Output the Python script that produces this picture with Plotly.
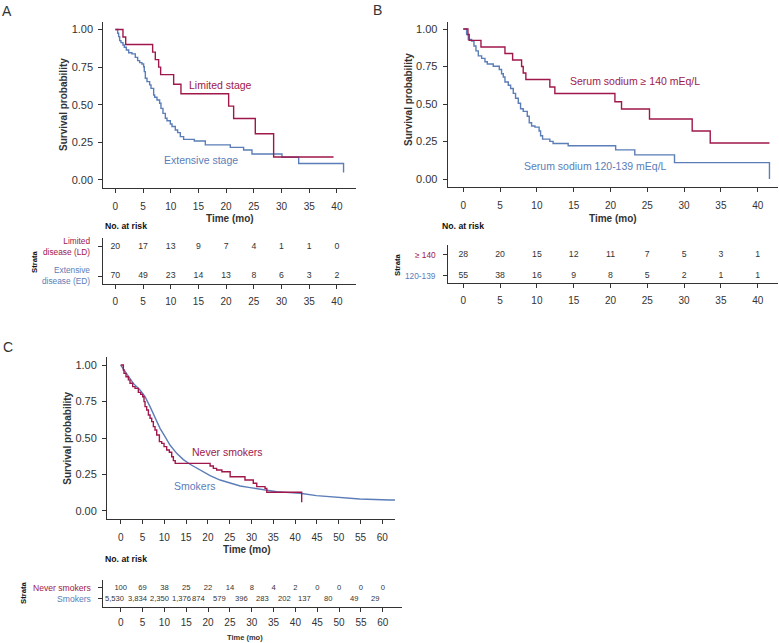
import plotly.graph_objects as go

W, H = 779, 643
RED = "#A0174B"
BLUE = "#5B7DB8"
TXT = "#333333"
FONT = "Liberation Sans, Arial, Helvetica, sans-serif"

# ---------------- data ----------------
# Panel A: stage
a_ld_time = [0, 1.38, 1.87, 6.74, 7.22, 7.82, 8.18, 10.53, 11.85, 20.46, 21.36, 25.27, 28.58, 39.4]
a_ld_surv = [1, 0.95, 0.90, 0.85, 0.80, 0.75, 0.70, 0.636, 0.573, 0.491, 0.409, 0.307, 0.153, 0.153]
a_ed_time = [0, 0.42, 0.6, 0.78, 1.02, 1.38, 1.62, 1.99, 2.41, 3.0, 3.61, 4.03, 4.39, 4.81, 5.11,
             5.23, 5.42, 5.72, 6.2, 6.44, 6.92, 7.1, 7.52, 8.0, 8.24, 8.6, 9.03, 9.33, 9.93, 10.23,
             10.83, 11.25, 11.73, 12.33, 14.26, 16.25, 20.76, 23.16, 24.67, 30.08, 33.1, 41.2]
a_ed_surv = [1, 0.975, 0.953, 0.926, 0.913, 0.897, 0.882, 0.864, 0.846, 0.838, 0.815, 0.793, 0.780,
             0.771, 0.753, 0.720, 0.676, 0.654, 0.632, 0.609, 0.565, 0.550, 0.532, 0.510, 0.476,
             0.443, 0.410, 0.394, 0.372, 0.355, 0.332, 0.315, 0.288, 0.270, 0.259, 0.233, 0.217,
             0.199, 0.173, 0.151, 0.11, 0.05]
a_risk_times = [0, 5, 10, 15, 20, 25, 30, 35, 40]
a_risk_ld = [20, 17, 13, 9, 7, 4, 1, 1, 0]
a_risk_ed = [70, 49, 23, 14, 13, 8, 6, 3, 2]

# Panel B: serum sodium
b_hi_time = [0, 0.63, 0.8, 2.4, 5.66, 6.7, 7.92, 8.14, 8.5, 11.76, 12.44, 20.6, 21.5, 25.3, 31.1, 33.55, 41.6]
b_hi_surv = [1, 0.963, 0.924, 0.880, 0.837, 0.793, 0.75, 0.707, 0.663, 0.613, 0.570, 0.515, 0.467,
             0.40, 0.32, 0.24, 0.24]
b_lo_time = [0, 0.45, 0.68, 1.13, 1.45, 1.72, 2.04, 2.49, 2.94, 3.26, 4.07, 4.89, 5.2, 5.43, 5.66,
             6.11, 6.43, 6.79, 7.10, 7.47, 7.78, 8.14, 8.69, 8.96, 9.28, 9.73, 10.3, 10.5, 10.77,
             11.76, 12.2, 14.25, 20.7, 23.3, 28.7, 41.6]
b_lo_surv = [1, 0.963, 0.930, 0.919, 0.887, 0.854, 0.821, 0.804, 0.782, 0.767, 0.752, 0.730, 0.702,
             0.680, 0.647, 0.625, 0.603, 0.571, 0.538, 0.505, 0.468, 0.451, 0.418, 0.375, 0.353,
             0.346, 0.320, 0.288, 0.266, 0.251, 0.237, 0.222, 0.194, 0.161, 0.109, 0.0]
b_risk_times = [0, 5, 10, 15, 20, 25, 30, 35, 40]
b_risk_hi = [28, 20, 15, 12, 11, 7, 5, 3, 1]
b_risk_lo = [55, 38, 16, 9, 8, 5, 2, 1, 1]

# Panel C: smoking
c_never_time = [0, 0.61, 0.76, 1.22, 1.76, 2.14, 2.75, 3.29, 4.05, 4.59, 5.05, 5.35, 5.58, 5.96,
                6.35, 6.73, 7.11, 7.49, 7.87, 8.26, 8.87, 9.4, 9.94, 10.55, 11.16, 11.7, 12.08,
                12.5, 20.5, 21.25, 22.0, 23.2, 25.1, 28.5, 30.4, 31.2, 33.1, 33.5, 41.5]
c_never_surv = [1, 0.966, 0.943, 0.920, 0.898, 0.875, 0.852, 0.840, 0.813, 0.799, 0.783, 0.749,
                0.715, 0.692, 0.658, 0.635, 0.612, 0.578, 0.555, 0.521, 0.475, 0.463, 0.441,
                0.418, 0.402, 0.372, 0.345, 0.326, 0.308, 0.292, 0.281, 0.269, 0.235, 0.212,
                0.190, 0.167, 0.155, 0.128, 0.059]
c_smk_time = [0, 1.38, 2.9, 4.43, 5.58, 6.73, 7.87, 9.02, 10.17, 11.3, 12.84, 14.37, 15.9, 17.43,
              18.96, 20.5, 22.8, 25.1, 27.4, 29.7, 32.7, 35.8, 38.8, 41.1, 44.9, 48.7, 54.8, 61.7, 62.9]
c_smk_surv = [1.0, 0.943, 0.874, 0.829, 0.783, 0.715, 0.635, 0.566, 0.509, 0.452, 0.395, 0.352,
              0.320, 0.295, 0.269, 0.242, 0.212, 0.189, 0.171, 0.160, 0.144, 0.132, 0.126, 0.121,
              0.105, 0.098, 0.082, 0.075, 0.075]
c_risk_times = [0, 5, 10, 15, 20, 25, 30, 35, 40, 45, 50, 55, 60]
c_risk_never = [100, 69, 38, 25, 22, 14, 8, 4, 2, 0, 0, 0, 0]
c_risk_smk = [5530, 3834, 2350, 1376, 874, 579, 396, 283, 202, 137, 80, 49, 29]
c_smk_label_shift = [-6, -5, -5, -5, -10, -10, -10, -11, -11, -13, -11, -7, -8]  # px, as printed

y_ticks = [0, 0.25, 0.5, 0.75, 1.0]
y_ticktext = ["0.00", "0.25", "0.50", "0.75", "1.00"]


# ---------------- helpers ----------------
def fx(p):
    return p / W


def fy(p):
    return 1 - p / H


annotations = []


def ann(text, x, y, size, color=TXT, bold=False, xanchor="center", yanchor="middle",
        angle=0, align="center"):
    annotations.append(dict(
        text=f"<b>{text}</b>" if bold else text, x=fx(x), y=fy(y), xref="paper", yref="paper",
        showarrow=False, xanchor=xanchor, yanchor=yanchor, textangle=angle, align=align,
        font=dict(family=FONT, size=size, color=color)))


fig = go.Figure()


def curve(t, s, color, xa, ya, shape="hv"):
    fig.add_trace(go.Scatter(x=t, y=s, mode="lines", line=dict(color=color, width=1.4, shape=shape),
                             xaxis=xa, yaxis=ya, showlegend=False, hoverinfo="skip"))


def risk_row(t, vals, yv, xa, ya, size):
    fig.add_trace(go.Scatter(x=t, y=[yv] * len(t), mode="text", text=[str(v) for v in vals],
                             textfont=dict(family=FONT, size=size, color=TXT),
                             xaxis=xa, yaxis=ya, showlegend=False, hoverinfo="skip"))


# Panel A
curve(a_ed_time, a_ed_surv, BLUE, "x", "y")
curve(a_ld_time, a_ld_surv, RED, "x", "y")
risk_row(a_risk_times, a_risk_ld, 2, "x2", "y2", 8.7)
risk_row(a_risk_times, a_risk_ed, 1, "x2", "y2", 8.7)
# Panel B
curve(b_lo_time, b_lo_surv, BLUE, "x3", "y3")
curve(b_hi_time, b_hi_surv, RED, "x3", "y3")
risk_row(b_risk_times, b_risk_hi, 2, "x4", "y4", 8.7)
risk_row(b_risk_times, b_risk_lo, 1, "x4", "y4", 8.7)
# Panel C
curve(c_smk_time, c_smk_surv, BLUE, "x5", "y5", shape="linear")
curve(c_never_time, c_never_surv, RED, "x5", "y5")
risk_row(c_risk_times, c_risk_never, 2, "x6", "y6", 7.6)
for t, v, sh in zip(c_risk_times, c_risk_smk, c_smk_label_shift):
    annotations.append(dict(text=f"{v:,}", x=t, y=1, xref="x6", yref="y6", xshift=sh,
                            showarrow=False, font=dict(family=FONT, size=7.6, color=TXT)))

axis_common = dict(showline=True, linecolor="#333333", linewidth=1, ticks="outside", ticklen=4,
                   tickcolor="#333333", tickwidth=1, showgrid=False, zeroline=False,
                   tickfont=dict(family=FONT, size=10, color=TXT))


def xax(dom, rng, tv, labels=True, standoff=5):
    d = dict(axis_common)
    d.update(domain=[fx(dom[0]), fx(dom[1])], range=rng, tickvals=tv, showticklabels=labels,
             ticklabelstandoff=standoff)
    return d


def yax(dom, rng, tv, tt=None, size=11, labels=True):
    d = dict(axis_common)
    d.update(domain=[fy(dom[1]), fy(dom[0])], range=rng, tickvals=tv, showticklabels=labels,
             tickfont=dict(family=FONT, size=size, color=TXT), ticklabelstandoff=3)
    if tt is not None:
        d["ticktext"] = tt
    return d


layout = dict(
    width=W, height=H, autosize=False, margin=dict(l=0, r=0, t=0, b=0),
    paper_bgcolor="white", plot_bgcolor="white", showlegend=False,
    # A
    xaxis=xax((103.3, 356), [-2.17, 43.45], a_risk_times),
    yaxis=yax((22, 187.5), [-0.05, 1.05], y_ticks, y_ticktext),
    xaxis2=xax((103.3, 356), [-2.17, 43.45], a_risk_times, standoff=4),
    yaxis2=yax((238, 284.3), [0.714, 2.31], [1, 2], labels=False),
    # B
    xaxis3=xax((447.7, 778), [-2.12, 42.76], b_risk_times),
    yaxis3=yax((21.5, 186.5), [-0.05, 1.05], y_ticks, y_ticktext),
    xaxis4=xax((447.7, 778), [-2.12, 42.76], b_risk_times, standoff=4),
    yaxis4=yax((245, 283.3), [0.633, 2.48], [1, 2], labels=False),
    # C
    xaxis5=xax((107, 395), [-3.14, 62.9], c_risk_times),
    yaxis5=yax((357.3, 519), [-0.055, 1.053], y_ticks, y_ticktext),
    xaxis6=xax((103.3, 402), [-3.99, 64.4], c_risk_times, standoff=2),
    yaxis6=yax((580, 607.3), [0.265, 2.68], [1, 2], labels=False),
)
for i in range(1, 7):
    k = "xaxis" if i == 1 else f"xaxis{i}"
    layout[k]["anchor"] = "y" if i == 1 else f"y{i}"
    ky = "yaxis" if i == 1 else f"yaxis{i}"
    layout[ky]["anchor"] = "x" if i == 1 else f"x{i}"

# Panel letters
ann("A", 6.5, 11, 14)
ann("B", 377, 10, 14)
ann("C", 8, 347, 14)

# Axis titles
ann("Survival probability", 63, 105, 10, bold=True, angle=-90)
ann("Survival probability", 408, 100, 10, bold=True, angle=-90)
ann("Survival probability", 66.7, 438, 10, bold=True, angle=-90)
ann("Time (mo)", 230, 218.7, 10, bold=True)
ann("Time (mo)", 613, 218.3, 10, bold=True)
ann("Time (mo)", 247, 549, 10, bold=True)
ann("Time (mo)", 245, 637.5, 7.5, bold=True)

# Curve labels
ann("Limited stage", 220.5, 85, 10.5, color=RED)
ann("Extensive stage", 201.3, 160, 10.5, color=BLUE)
ann("Serum sodium ≥ 140 mEq/L", 634.7, 80.7, 10.5, color=RED)
ann("Serum sodium 120-139 mEq/L", 595.8, 165.7, 10.5, color=BLUE)
ann("Never smokers", 227.7, 451.7, 10.5, color=RED)
ann("Smokers", 194, 485.7, 10.5, color=BLUE)

# Risk table labels
ann("No. at risk", 103, 226, 8.7, color="#111", bold=True, xanchor="left")
ann("No. at risk", 440, 225.7, 8.7, color="#111", bold=True, xanchor="left")
ann("No. at risk", 103, 559, 8.7, color="#111", bold=True, xanchor="left")
ann("Strata", 34, 262, 7.7, color="#111", bold=True, angle=-90)
ann("Strata", 397, 265, 7.7, color="#111", bold=True, angle=-90)
ann("Strata", 23, 593, 7.7, color="#111", bold=True, angle=-90)
ann("Limited<br>disease (LD)", 92.3, 246, 8.3, color=RED, xanchor="right", align="right")
ann("Extensive<br>disease (ED)", 92.3, 275, 8.3, color=BLUE, xanchor="right", align="right")
ann("≥ 140", 438.3, 255, 8.3, color=RED, xanchor="right")
ann("120-139", 438.3, 275.7, 8.3, color=BLUE, xanchor="right")
ann("Never smokers", 92.7, 587.7, 8.6, color=RED, xanchor="right")
ann("Smokers", 92.7, 599, 8.6, color=BLUE, xanchor="right")

layout["annotations"] = annotations
fig.update_layout(**layout)
# remove the browser's default 8px body margin so the figure sits at the page origin
fig.write_html("out.html", config={"displayModeBar": False},
               post_script="document.body.style.margin='0px';")
